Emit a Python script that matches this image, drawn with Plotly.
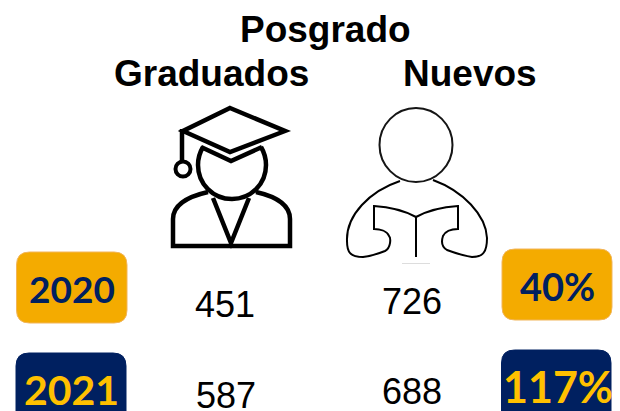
import plotly.graph_objects as go

years = ["2020", "2021"]
graduados = [451, 587]
nuevos = [726, 688]
variacion = ["40%", "117%"]

NAVY = "#002060"
GOLD = "#F4AB00"
YELLOW = "#FFC000"
TITLE_FONT = "Liberation Sans"
BADGE_FONT = "Lato"


def rounded_box(x0, y0, x1, y1, r):
    return (
        f"M{x0 + r},{y0} L{x1 - r},{y0} Q{x1},{y0} {x1},{y0 + r} "
        f"L{x1},{y1 - r} Q{x1},{y1} {x1 - r},{y1} L{x0 + r},{y1} "
        f"Q{x0},{y1} {x0},{y1 - r} L{x0},{y0 + r} Q{x0},{y0} {x0 + r},{y0} Z"
    )


def text(x, y, label, size, color="black", family=TITLE_FONT, bold=False):
    return dict(
        x=x, y=y, text=f"<b>{label}</b>" if bold else label, showarrow=False,
        xanchor="center", yanchor="middle", xref="x", yref="y",
        font=dict(family=family, size=size, color=color),
    )


def icon(path, width, fill="rgba(0,0,0,0)"):
    return dict(type="path", path=path, xref="x", yref="y", fillcolor=fill,
                line=dict(color="black", width=width))


fig = go.Figure()

shapes = [
    # badges
    dict(type="path", path=rounded_box(16.5, 252, 127, 323, 13), fillcolor=GOLD,
         line=dict(color="#F2B55A", width=1)),
    dict(type="path", path=rounded_box(16, 353, 126, 440, 13), fillcolor=NAVY,
         line=dict(color=NAVY, width=1)),
    dict(type="path", path=rounded_box(502, 249, 612, 320, 13), fillcolor=GOLD,
         line=dict(color="#F2B55A", width=1)),
    dict(type="path", path=rounded_box(501.5, 350, 611, 440, 13), fillcolor=NAVY,
         line=dict(color=NAVY, width=1)),
    # graduate icon
    icon("M203,147 C200,152 198,158 198,165 C198,184 213,199 232,199 "
         "C251,199 266,184 266,165 C266,158 264,152 261,147", 4.5),
    icon("M208,192 C186,197 173,205 173,219 L173,246 L290,246 L290,219 C290,205 278,197 256,192", 4.5),
    icon("M213,198 L231,243 L249,198", 4.5),
    icon("M230,108 L285,131 L230,152 L183,131 Z", 4.5, "white"),
    icon("M201,147 L231,161 L262,147", 4.5),
    icon("M182,129 L182,161", 4.5),
    dict(type="circle", xref="x", yref="y", x0=175.5, y0=161.5, x1=190.5, y1=176.5,
         fillcolor="white", line=dict(color="black", width=4)),
    # reader icon
    dict(type="circle", xref="x", yref="y", x0=379.5, y0=108, x1=452.5, y1=182,
         line=dict(color="#151515", width=2)),
    icon("M400,181 C370,191 346,215 347,241 C347,252 350,257 363,257 C372,256 380,253 385,251 "
         "C391,248 391,238 389,236 C387,231 380,229 374,229 L374,206 C390,207 405,211 416,217 "
         "C427,211 442,207 458,206 L458,229 C452,229 446,230 443,236 C441,242 442,247 447,250 "
         "C455,253 465,256 472,257 C483,257 487,252 487,238 C486,215 463,191 433,180", 2),
    icon("M416,217 L416,257", 2),
    # faint smudges left over from the pasted icon
    dict(type="line", xref="x", yref="y", x0=402, y0=263.5, x1=430, y1=263.5,
         line=dict(color="#DDDDDD", width=1)),
]

annotations = [
    text(325, 29, "Posgrado", 37, bold=True),
    text(211.5, 73, "Graduados", 37, bold=True),
    text(469.5, 73, "Nuevos", 37, bold=True),
    text(71.5, 288, years[0], 37, NAVY, BADGE_FONT, True),
    text(71, 389, years[1], 41, YELLOW, BADGE_FONT, True),
    text(224.5, 304, str(graduados[0]), 36),
    text(225.5, 395, str(graduados[1]), 36),
    text(412, 301, str(nuevos[0]), 36),
    text(412, 391, str(nuevos[1]), 36),
    text(557, 286, variacion[0], 38, NAVY, BADGE_FONT, True),
    text(557.5, 386, variacion[1], 43, YELLOW, BADGE_FONT, True),
]

fig.update_layout(
    width=620, height=411, margin=dict(l=0, r=0, t=0, b=0),
    paper_bgcolor="white", plot_bgcolor="white",
    xaxis=dict(range=[0, 620], visible=False, fixedrange=True),
    yaxis=dict(range=[411, 0], visible=False, fixedrange=True),
    shapes=shapes, annotations=annotations, showlegend=False,
)

# the page has a default body margin that would push the figure off by 8px
fig.write_html(
    "out.html",
    config={"displayModeBar": False},
    post_script="document.body.style.margin='0';document.body.style.overflow='hidden';",
)
